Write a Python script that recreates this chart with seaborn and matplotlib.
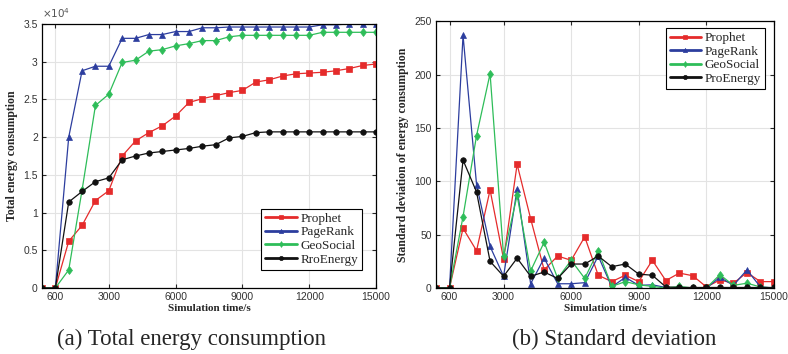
import numpy as np
import matplotlib
matplotlib.use("Agg")
import matplotlib.pyplot as plt
import seaborn as sns
from matplotlib.ticker import FuncFormatter

sns.set_style("ticks")
plt.rcParams['font.family'] = ['Liberation Sans', 'DejaVu Sans']

# simulation time, one sample every 600 s
time_s = list(range(0, 15001, 600))

# (a) total energy consumption
total_prophet = [0, 0, 6200, 8300, 11600, 12900, 17500, 19500, 20600, 21500, 22800, 24600,
                 25100, 25500, 25900, 26200, 27300, 27600, 28100, 28400, 28500, 28600,
                 28800, 29100, 29500, 29700]
total_pagerank = [0, 0, 20000, 28800, 29400, 29400, 33100, 33100, 33600, 33600, 34000, 34000,
                  34500, 34500, 34600, 34600, 34600, 34600, 34600, 34600, 34600, 34900,
                  34900, 35000, 35000, 35000]
total_geosocial = [0, 0, 2400, 13000, 24200, 25700, 29900, 30200, 31400, 31600, 32100, 32400,
                   32800, 32800, 33300, 33500, 33500, 33500, 33500, 33500, 33500, 33900,
                   33900, 33900, 33900, 33900]
total_proenergy = [0, 0, 11400, 12800, 14100, 14600, 17000, 17500, 17900, 18100, 18300, 18500,
                   18800, 19000, 19900, 20100, 20600, 20700, 20700, 20700, 20700, 20700,
                   20700, 20700, 20700, 20700]

# (b) standard deviation of energy consumption
std_prophet = [0, 0, 56, 35, 92, 27, 116, 65, 17, 30, 26, 48, 12, 6, 12, 6, 26, 7, 14, 11.5,
               1, 7.5, 4.5, 14.5, 6, 6]
std_pagerank = [0, 0, 237, 97, 39, 11, 93, 4, 28, 4, 4, 5, 30, 1, 10, 2.5, 3, 0.5, 0, 0, 0,
                10, 2.5, 17, 1, 0]
std_geosocial = [0, 0, 67, 143, 201, 30, 87, 16, 43, 9, 26, 9, 35, 1.5, 6, 3, 1.5, 0, 1.5,
                 0, 0, 12.5, 2.5, 4.5, 1, 0]
std_proenergy = [0, 0, 120, 90, 25, 11, 28, 11, 15, 9, 22.5, 22.5, 30, 20, 22.5, 13, 12, 1,
                 0.5, 0.5, 0.5, 0.5, 0.5, 0.5, 0.5, 0.5]

x_ticks = [600, 3000, 6000, 9000, 12000, 15000]

colors = {"red": "#e52b2b", "blue": "#2c3d9e", "green": "#2ebd59", "black": "#111111"}
markers = {"red": "s", "blue": "^", "green": "d", "black": "o"}

fig = plt.figure(figsize=(7.88, 3.54), dpi=100)
ax1 = fig.add_axes([0.0533, 0.1864, 0.4239, 0.7458])
ax2 = fig.add_axes([0.5533, 0.1864, 0.4289, 0.7530])

left_series = [("Prophet", total_prophet, "red"), ("PageRank", total_pagerank, "blue"),
               ("GeoSocial", total_geosocial, "green"), ("RroEnergy", total_proenergy, "black")]
right_series = [("Prophet", std_prophet, "red"), ("PageRank", std_pagerank, "blue"),
                ("GeoSocial", std_geosocial, "green"), ("ProEnergy", std_proenergy, "black")]

for ax, series in [(ax1, left_series), (ax2, right_series)]:
    for name, vals, c in series:
        sns.lineplot(x=time_s, y=vals, ax=ax, color=colors[c], marker=markers[c],
                     markersize=4 if c != "green" else 4.5, markeredgewidth=0.5,
                     markeredgecolor=colors[c], linewidth=0.9, label=name)

    ax.set_xlim(0, 15000)
    ax.set_xticks(x_ticks)
    ax.grid(True, color="#e3e3e3", linewidth=0.8)
    ax.set_axisbelow(True)
    ax.tick_params(direction="in", top=True, right=True, length=3, width=0.8,
                   labelsize=7.5, labelcolor="#333333", pad=3)
    for sp in ax.spines.values():
        sp.set_linewidth(0.9)
        sp.set_color("black")
    ax.set_xlabel("Simulation time/s", family="Liberation Serif", fontweight="bold",
                  fontsize=8, labelpad=1)

# left axis
ax1.set_ylim(0, 35000)
ax1.set_yticks(np.arange(0, 35001, 5000))
ax1.yaxis.set_major_formatter(FuncFormatter(lambda v, _: f"{v / 1e4:g}"))
ax1.text(0.0, 1.015, r"$\times10^4$", transform=ax1.transAxes, fontsize=7.5,
         color="#555555", ha="left", va="bottom")
ax1.set_ylabel("Total energy consumption", family="Liberation Serif", fontweight="bold",
               fontsize=8.5, labelpad=4)
ax1.legend(loc="lower right", bbox_to_anchor=(0.97, 0.055), prop={"family": "Liberation Serif",
           "size": 9.5}, frameon=True, fancybox=False, edgecolor="black", framealpha=1,
           handlelength=2.4, handletextpad=0.25, borderpad=0.3, labelspacing=0.1,
           borderaxespad=0.3)

# right axis
ax2.set_ylim(0, 250)
ax2.set_yticks(np.arange(0, 251, 50))
ax2.set_ylabel("Standard deviation of energy consumption", family="Liberation Serif",
               fontweight="bold", fontsize=8.5, labelpad=4)
ax2.legend(loc="upper right", bbox_to_anchor=(0.985, 0.99), prop={"family": "Liberation Serif",
           "size": 9.5}, frameon=True, fancybox=False, edgecolor="black", framealpha=1,
           handlelength=2.4, handletextpad=0.25, borderpad=0.3, labelspacing=0.1,
           borderaxespad=0.3)

for ax in (ax1, ax2):
    leg = ax.get_legend()
    leg.get_frame().set_linewidth(0.8)
    for line in leg.get_lines():
        line.set_linewidth(2)
        line.set_markersize(3)

fig.text(0.243, 0.04, "(a) Total energy consumption", family="Liberation Serif",
         fontsize=16.5, ha="center", va="center")
fig.text(0.78, 0.04, "(b) Standard deviation", family="Liberation Serif",
         fontsize=16.5, ha="center", va="center")

fig.savefig("out.png", dpi=100)
